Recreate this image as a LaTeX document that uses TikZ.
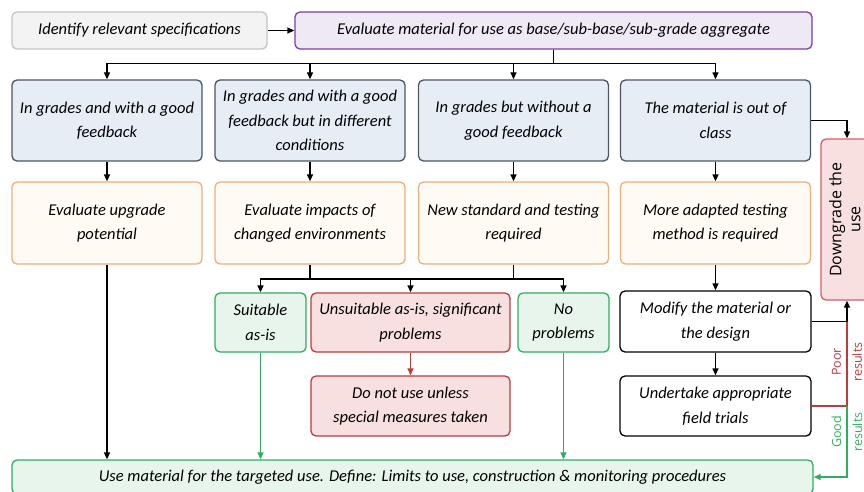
\documentclass[tikz,border=0pt]{standalone}
\usepackage{fontspec}
\setmainfont{Carlito}
\newfontfamily\labelfont{Open Sans}
\usepackage{tikz}
\usetikzlibrary{arrows.meta,positioning,calc}
\definecolor{SpecGray}{HTML}{F3F3F3}
\definecolor{SpecEdge}{HTML}{C4C4C4}
\definecolor{EvalPurple}{HTML}{7B3FA8}
\definecolor{GradeBlue}{HTML}{E7EDF5}
\definecolor{GradeEdge}{HTML}{4B5563}
\definecolor{StepOrange}{HTML}{EFAE7A}
\definecolor{StepFill}{HTML}{FFFAF4}
\definecolor{OkGreen}{HTML}{2FAE60}
\definecolor{OkFill}{HTML}{E8F5EC}
\definecolor{BadRed}{HTML}{C0393D}
\definecolor{BadFill}{HTML}{F8E0E0}

\begin{document}
\begin{tikzpicture}[
        x=1pt, y=-1pt,
        box/.style={rectangle, rounded corners=5pt, draw, line width=1.3pt, align=center, inner sep=2pt,
          font=\itshape\fontsize{16.5}{24.5}\selectfont},
        grade/.style={box, fill=GradeBlue, draw=GradeEdge, minimum width=190pt, minimum height=81pt},
        todo/.style={box, fill=StepFill, draw=StepOrange, minimum width=190pt, minimum height=82pt},
        good/.style={box, fill=OkFill, draw=OkGreen},
        bad/.style={box, fill=BadFill, draw=BadRed},
        plain/.style={box, fill=white, draw=black, minimum width=191pt},
        arrow/.style={-{Triangle[length=7pt,width=6pt]}, line width=1.3pt},
        note/.style={font=\labelfont\fontsize{12.5}{21}\selectfont, align=center, rotate=90}
      ]
        \useasboundingbox (0,0) rectangle (864,492);
        \fill[white] (0,0) rectangle (864,492);

        % Top row
        \node[box, fill=SpecGray, draw=SpecEdge, minimum width=255pt, minimum height=37pt] (spec) at (139.5,30.5)
          {Identify relevant specifications};
        \node[box, fill=EvalPurple!12, draw=EvalPurple, minimum width=517pt, minimum height=37pt] (evalm) at (553.5,30.5)
          {Evaluate material for use as base/sub-base/sub-grade aggregate};

        % Four grade cases
        \node[grade] (g1) at (107,120.5) {In grades and with a good\\feedback};
        \node[grade] (g2) at (310,120.5) {In grades and with a good\\feedback but in different\\conditions};
        \node[grade] (g3) at (513.5,120.5) {In grades but without a\\good feedback};
        \node[grade] (g4) at (715.5,120.5) {The material is out of\\class};

        % What to do next
        \node[todo] (t1) at (107,223) {Evaluate upgrade\\potential};
        \node[todo] (t2) at (310,223) {Evaluate impacts of\\changed environments};
        \node[todo] (t3) at (513.5,223) {New standard and testing\\required};
        \node[todo] (t4) at (715.5,223) {More adapted testing\\method is required};

        % Outcomes
        \node[good, minimum width=91pt, minimum height=59pt] (suit) at (260.5,322.5) {Suitable\\as-is};
        \node[bad, minimum width=199pt, minimum height=59pt] (unsuit) at (410.5,322.5) {Unsuitable as-is, significant\\problems};
        \node[good, minimum width=91pt, minimum height=59pt] (noprob) at (563.5,322.5) {No\\problems};
        \node[bad, minimum width=199pt, minimum height=60pt] (nouse) at (410.5,406) {Do not use unless\\special measures taken};
        \node[plain, minimum height=61pt] (modify) at (715.5,321.5) {Modify the material or\\the design};
        \node[plain, minimum height=60pt] (trial) at (715.5,406) {Undertake appropriate\\field trials};

        \node[box, fill=BadFill, draw=BadRed!80, minimum width=52pt, minimum height=161pt, inner sep=0pt] (down) at (847,219.5)
          {\rotatebox{90}{\upshape\labelfont\fontsize{16}{19}\selectfont\begin{tabular}{@{}c@{}}Downgrade the\\use\end{tabular}}};

        \node[good, minimum width=801pt, minimum height=34pt] (use) at (412.5,477)
          {Use material for the targeted use. Define: Limits to use, construction \& monitoring procedures};

        % Arrows
        \draw[arrow] (spec) -- (evalm);
        \foreach \g in {g1,g2,g3,g4}
          \draw[arrow] (evalm.south) -- ++(0,14) -| (\g.north);
        \draw[arrow] (g1) -- (t1);
        \draw[arrow] (g2) -- (t2);
        \draw[arrow] (g3) -- (t3);
        \draw[arrow] (g4) -- (t4);

        \coordinate (bus) at (0,279);
        \draw[line width=1.3pt] (t2.south) -- (t2.south |- bus) -- (t3.south |- bus) -- (t3.south);
        \draw[arrow] (t2.south |- bus) -| (suit.north);
        \draw[arrow] (t2.south |- bus) -| (unsuit.north);
        \draw[arrow] (t3.south |- bus) -| (noprob.north);
        \draw[arrow, BadRed] (unsuit) -- (nouse);

        \draw[arrow] (t1.south) -- (t1.south |- use.north);
        \draw[arrow, OkGreen] (suit.south) -- (suit.south |- use.north);
        \draw[arrow, OkGreen] (noprob.south) -- (noprob.south |- use.north);

        \draw[arrow] (t4) -- (modify);
        \draw[arrow] (modify) -- (trial);

        % Right hand loop
        \coordinate (join) at (down.south |- modify.east);
        \draw[arrow] (g4.east) -| (down.north);
        \draw[arrow] (modify.east) -| (down.south);
        \draw[line width=1.3pt, BadRed] (trial.east) -| (join);
        \draw[arrow, OkGreen] (trial.east -| down.south) |- (use.east);

        \node[note, text=BadRed] (poor) at (847,362) {Poor\\results};
        \node[note, text=OkGreen] (fine) at (847,432) {Good\\results};
      \end{tikzpicture}
\end{document}
